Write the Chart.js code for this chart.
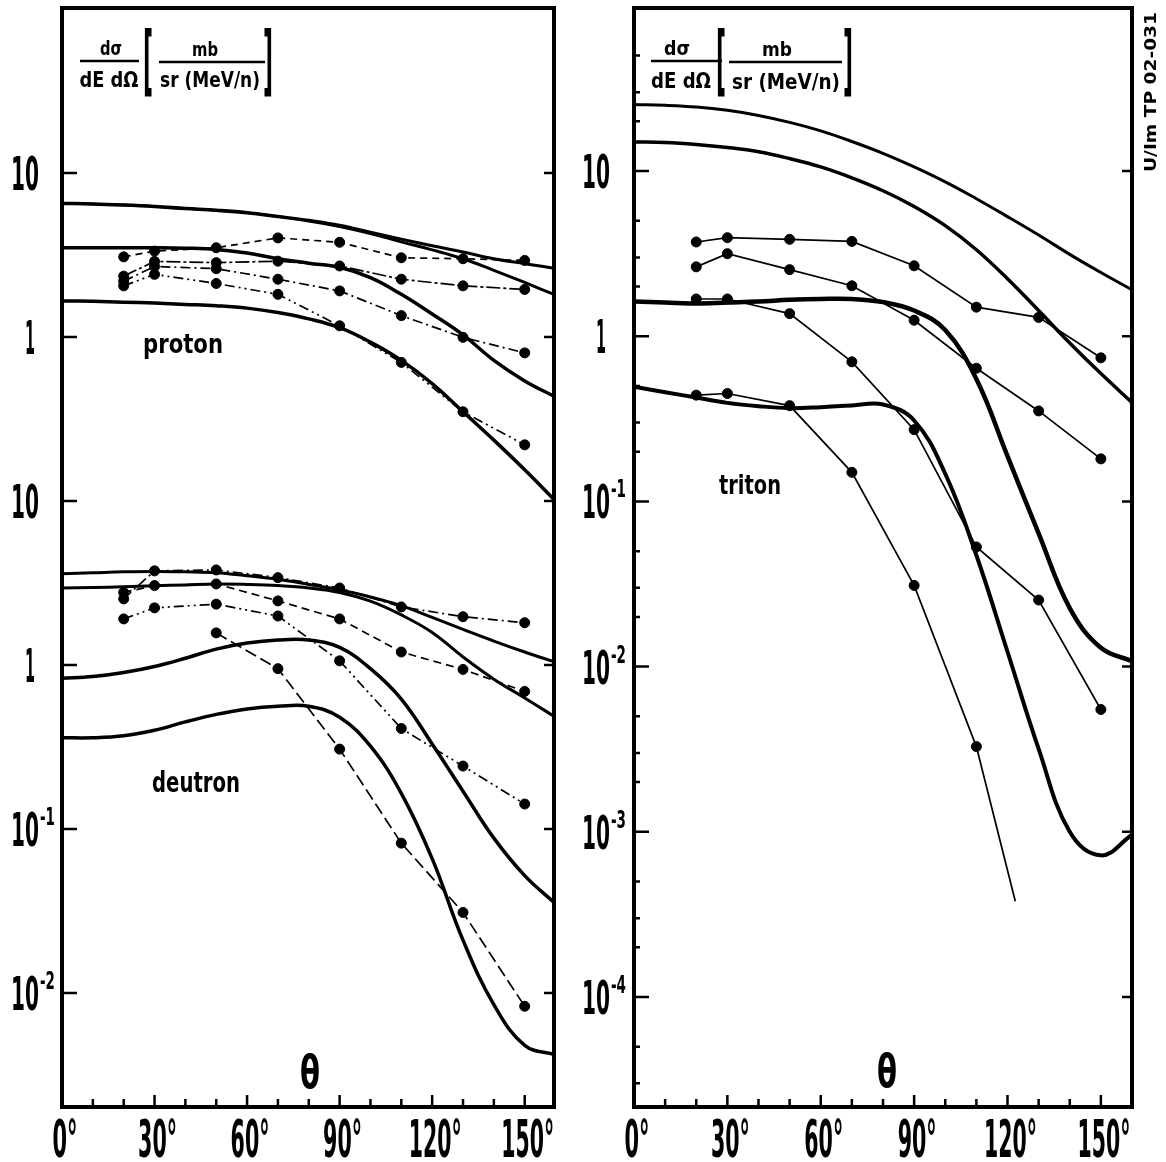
<!DOCTYPE html>
<html>
<head>
<meta charset="utf-8">
<script src="https://cdn.jsdelivr.net/npm/chart.js@4.4.0/dist/chart.umd.min.js"></script>
<style>
html, body { margin: 0; padding: 0; background: #fff; }
#wrap { position: relative; width: 1166px; height: 1162px; }
canvas { position: absolute; top: 0; }
</style>
</head>
<body>
<div id="wrap">
  <canvas id="left" width="570" height="1162" style="left:0"></canvas>
  <canvas id="right" width="596" height="1162" style="left:570px"></canvas>
</div>
<script>
// angles (deg) for the calculated curves and for the measured points
const angles = [0, 10, 20, 30, 40, 50, 60, 70, 80, 90, 100, 110, 120, 130, 140, 150, 160];
const markAngles = [20, 30, 50, 70, 90, 110, 130, 150];

// proton, mb/(sr MeV/n)
const protonCurveA = [6.55, 6.5, 6.4, 6.27, 6.1, 5.95, 5.75, 5.45, 5.15, 4.8, 4.35, 3.95, 3.6, 3.3, 3.0, 2.8, 2.62];
const protonCurveB = [6.5, 6.45, 6.35, 6.22, 6.05, 5.9, 5.7, 5.4, 5.1, 4.72, 4.28, 3.8, 3.4, 3.0, 2.55, 2.15, 1.8];
const protonCurveC = [3.5, 3.5, 3.5, 3.5, 3.48, 3.42, 3.25, 3.0, 2.82, 2.66, 2.3, 1.82, 1.38, 1.03, 0.72, 0.54, 0.43];
const protonCurveD = [1.66, 1.65, 1.63, 1.61, 1.58, 1.55, 1.5, 1.41, 1.29, 1.14, 0.93, 0.72, 0.52, 0.35, 0.235, 0.155, 0.10];
const protonPointsA = [3.08, 3.34, 3.50, 4.02, 3.78, 3.04, 3.0, 2.93];
const protonPointsB = [2.35, 2.89, 2.84, 2.90, 2.71, 2.25, 2.05, 1.95];
const protonPointsC = [2.19, 2.69, 2.61, 2.25, 1.91, 1.35, 0.995, 0.80];
const protonPointsD = [2.05, 2.41, 2.12, 1.82, 1.17, 0.70, 0.35, 0.22];

// deutron (drawn two decades below the proton block)
const deutronShift = 0.01;
const deutronCurveA = [3.6, 3.65, 3.7, 3.72, 3.7, 3.65, 3.5, 3.33, 3.1, 2.88, 2.6, 2.3, 1.95, 1.65, 1.4, 1.2, 1.04];
const deutronCurveB = [2.95, 2.97, 3.0, 3.04, 3.08, 3.12, 3.1, 3.05, 2.95, 2.77, 2.45, 2.02, 1.58, 1.12, 0.82, 0.63, 0.48];
const deutronCurveC = [0.83, 0.85, 0.9, 0.98, 1.1, 1.25, 1.36, 1.42, 1.42, 1.28, 0.95, 0.62, 0.33, 0.17, 0.088, 0.052, 0.035];
const deutronCurveD = [0.36, 0.36, 0.37, 0.40, 0.45, 0.50, 0.54, 0.56, 0.56, 0.48, 0.32, 0.165, 0.066, 0.021, 0.0085, 0.0048, 0.0042];
const deutronPointsA = [2.53, 3.75, 3.8, 3.41, 2.95, 2.26, 1.97, 1.81];
const deutronPointsB = [2.77, 3.05, 3.12, 2.46, 1.91, 1.2, 0.94, 0.69];
const deutronPointsC = [1.91, 2.23, 2.35, 1.99, 1.06, 0.41, 0.242, 0.142];
const deutronAnglesD = [50, 70, 90, 110, 130, 150];
const deutronPointsD = [1.57, 0.95, 0.307, 0.082, 0.031, 0.0083];

// triton
const tritonCurveA = [25.3, 25.0, 24.4, 23.3, 21.7, 19.7, 17.5, 15.1, 12.8, 10.6, 8.6, 6.8, 5.3, 4.1, 3.13, 2.43, 1.91];
const tritonCurveB = [15.0, 14.9, 14.5, 13.9, 13.1, 11.9, 10.6, 9.1, 7.6, 6.1, 4.67, 3.34, 2.23, 1.43, 0.91, 0.594, 0.397];
const tritonCurveC = [1.62, 1.6, 1.58, 1.6, 1.62, 1.66, 1.68, 1.68, 1.61, 1.43, 1.09, 0.55, 0.188, 0.064, 0.0226, 0.013, 0.0108];
const tritonCurveD = [0.494, 0.458, 0.426, 0.395, 0.377, 0.367, 0.372, 0.381, 0.386, 0.309, 0.147, 0.0472, 0.0123, 0.00318, 0.001, 0.00072, 0.00096];
const tritonPointsA = [3.72, 3.95, 3.86, 3.75, 2.67, 1.50, 1.30, 0.74];
const tritonPointsB = [2.63, 3.16, 2.53, 2.02, 1.25, 0.64, 0.353, 0.181];
const tritonPointsC = [1.68, 1.68, 1.37, 0.70, 0.272, 0.053, 0.0253, 0.0055];
const tritonAnglesD = [20, 30, 50, 70, 90, 110, 122.5];
const tritonPointsD = [0.44, 0.45, 0.38, 0.150, 0.031, 0.00328, 0.00038];

// axis ticks and labels
const yTickValues = [10, 1, 0.1, 0.01, 0.001, 0.0001];
const leftTickText = ['10', '1', '10', '1', '10', '10'];
const leftTickExp = ['', '', '', '', '-1', '-2'];
const rightTickText = ['10', '1', '10', '10', '10', '10'];
const rightTickExp = ['', '', '-1', '-2', '-3', '-4'];
const xLabelValues = [0, 30, 60, 90, 120, 150];

const FONT = '"DejaVu Sans", "Liberation Sans", sans-serif';

function toPts(xs, ys, k) {
    return xs.map((x, i) => ({ x: x, y: ys[i] * (k || 1) }));
}

function curve(ys, width, k) {
    return {
        data: toPts(angles, ys, k),
        borderColor: '#000',
        borderWidth: width,
        pointRadius: 0,
        tension: 0.4,
        fill: false
    };
}

function marks(xs, ys, dash, k, radius) {
    return {
        data: toPts(xs, ys, k),
        borderColor: '#000',
        backgroundColor: '#000',
        borderWidth: 1.7,
        borderDash: dash,
        pointRadius: radius || 5,
        pointBackgroundColor: '#000',
        pointBorderWidth: 1,
        tension: 0,
        fill: false
    };
}

// squeeze text horizontally to a target width (the original uses a very narrow face)
function fitText(ctx, text, x, base, size, width, align) {
    ctx.font = 'bold ' + size + 'px ' + FONT;
    const w = ctx.measureText(text).width;
    ctx.save();
    ctx.translate(x, base);
    ctx.scale(width / w, 1);
    ctx.textAlign = align || 'center';
    ctx.textBaseline = 'alphabetic';
    ctx.fillText(text, 0, 0);
    ctx.restore();
}

const framePlugin = {
    id: 'frame',
    afterDatasetsDraw(chart, args, o) {
        const ctx = chart.ctx, a = chart.chartArea;
        const xs = chart.scales.x, ys = chart.scales.y;
        ctx.save();
        ctx.strokeStyle = '#000';
        ctx.fillStyle = '#000';
        ctx.lineWidth = 4;
        ctx.strokeRect(a.left, a.top, a.right - a.left, a.bottom - a.top);

        ctx.lineWidth = 2.5;
        ctx.beginPath();
        yTickValues.forEach(v => {
            const py = ys.getPixelForValue(v);
            ctx.moveTo(a.left, py); ctx.lineTo(a.left + 15, py);
            ctx.moveTo(a.right, py); ctx.lineTo(a.right - 10, py);
        });
        (o.minor || []).forEach(v => {
            const py = ys.getPixelForValue(v);
            if (py > a.top + 4 && py < a.bottom - 4) {
                ctx.moveTo(a.left, py); ctx.lineTo(a.left + 6, py);
            }
        });
        for (let t = 10; t <= 150; t += 10) {
            const px = xs.getPixelForValue(t);
            ctx.moveTo(px, a.bottom);
            ctx.lineTo(px, a.bottom - (t % 30 ? 8 : 12));
        }
        ctx.stroke();

        // y tick labels
        yTickValues.forEach((v, i) => {
            const py = ys.getPixelForValue(v);
            const txt = o.tickText[i], exp = o.tickExp[i];
            const one = txt === '1';
            const w = one ? 10 : 28;
            const cx = one ? o.labelX + 5 : o.labelX;
            fitText(ctx, txt, cx, py + 17, 47, w);
            if (exp) fitText(ctx, exp, cx + w / 2 + 1, py - 4, 24, 15, 'left');
        });

        // x tick labels
        xLabelValues.forEach(v => {
            const px = xs.getPixelForValue(v);
            const s = String(v);
            fitText(ctx, s + '°', px + 3, 1157, 52, 14 * s.length + 11);
        });

        // texts inside the frame
        o.texts.forEach(t => fitText(ctx, t[0], t[1], t[2], t[3], t[4]));
        ctx.lineWidth = 2.5;
        ctx.beginPath();
        o.bars.forEach(b => { ctx.moveTo(b[0], b[2]); ctx.lineTo(b[1], b[2]); });
        ctx.stroke();

        if (o.vtext) {
            const t = o.vtext;
            ctx.save();
            ctx.translate(t[1], t[2]);
            ctx.rotate(-Math.PI / 2);
            fitText(ctx, t[0], 0, 6, t[3], t[4]);
            ctx.restore();
        }
        ctx.restore();
    }
};

function baseOptions(pad, xMax, yMinExp, yMaxExp, frame) {
    return {
        responsive: false,
        animation: false,
        events: [],
        layout: { padding: pad },
        plugins: { legend: { display: false }, tooltip: { enabled: false }, frame: frame },
        scales: {
            x: { type: 'linear', min: 0, max: xMax, display: false },
            y: { type: 'logarithmic', min: Math.pow(10, yMinExp), max: Math.pow(10, yMaxExp), display: false }
        }
    };
}

// left: proton and deutron
new Chart(document.getElementById('left'), {
    type: 'line',
    data: {
        datasets: [
            curve(protonCurveA, 3),
            curve(protonCurveB, 3),
            curve(protonCurveC, 3.5),
            curve(protonCurveD, 3.5),
            curve(deutronCurveA, 3, deutronShift),
            curve(deutronCurveB, 3, deutronShift),
            curve(deutronCurveC, 3.5, deutronShift),
            curve(deutronCurveD, 3.5, deutronShift),
            marks(markAngles, protonPointsA, [7, 5]),
            marks(markAngles, protonPointsB, [14, 3, 3, 3]),
            marks(markAngles, protonPointsC, [10, 4, 2, 4]),
            marks(markAngles, protonPointsD, [10, 4, 2, 4, 2, 4]),
            marks(markAngles, deutronPointsA, [10, 4, 2, 4], deutronShift),
            marks(markAngles, deutronPointsB, [8, 5], deutronShift),
            marks(markAngles, deutronPointsC, [10, 4, 2, 4, 2, 4], deutronShift),
            marks(deutronAnglesD, deutronPointsD, [12, 5], deutronShift)
        ]
    },
    options: baseOptions({ left: 62, right: 16, top: 8, bottom: 55 }, 159.5, -4.695, 2.006, {
        labelX: 25,
        tickText: leftTickText,
        tickExp: leftTickExp,
        texts: [
            ['dσ', 111, 55, 20, 22],
            ['dE dΩ', 109, 87, 22, 59],
            ['[', 148, 86, 76, 10],
            ['mb', 205, 56, 20, 26],
            ['sr (MeV/n)', 210, 87, 22, 100],
            [']', 268, 86, 76, 10],
            ['proton', 183, 353, 26, 80],
            ['deutron', 196, 792, 28, 88],
            ['θ', 310, 1088, 46, 20]
        ],
        bars: [[80, 139, 61], [159, 265, 62]]
    }),
    plugins: [framePlugin]
});

// right: triton
const minorTicks = [];
for (let e = -5; e <= 1; e++) [2, 3, 5].forEach(m => minorTicks.push(m * Math.pow(10, e)));

const OX = 570;
new Chart(document.getElementById('right'), {
    type: 'line',
    data: {
        datasets: [
            curve(tritonCurveA, 3),
            curve(tritonCurveB, 3.5),
            curve(tritonCurveC, 4.5),
            curve(tritonCurveD, 4),
            marks(markAngles, tritonPointsA, []),
            marks(markAngles, tritonPointsB, []),
            marks(markAngles, tritonPointsC, []),
            marks(tritonAnglesD, tritonPointsD, [], 1, [5, 5, 5, 5, 5, 5, 0])
        ]
    },
    options: baseOptions({ left: 64, right: 34, top: 8, bottom: 55 }, 160, -4.666, 1.987, {
        labelX: 596 - OX,
        tickText: rightTickText,
        tickExp: rightTickExp,
        minor: minorTicks,
        texts: [
            ['dσ', 677 - OX, 55, 20, 26],
            ['dE dΩ', 681 - OX, 88, 22, 60],
            ['[', 721 - OX, 86, 76, 10],
            ['mb', 777 - OX, 56, 20, 30],
            ['sr (MeV/n)', 786 - OX, 89, 22, 108],
            [']', 848 - OX, 86, 76, 10],
            ['triton', 750 - OX, 494, 26, 62],
            ['θ', 887 - OX, 1087, 46, 20]
        ],
        bars: [[651 - OX, 722 - OX, 61], [729 - OX, 842 - OX, 62]],
        vtext: ['U/Im TP 02-031', 1150 - OX, 92, 16, 160]
    }),
    plugins: [framePlugin]
});
</script>
</body>
</html>
